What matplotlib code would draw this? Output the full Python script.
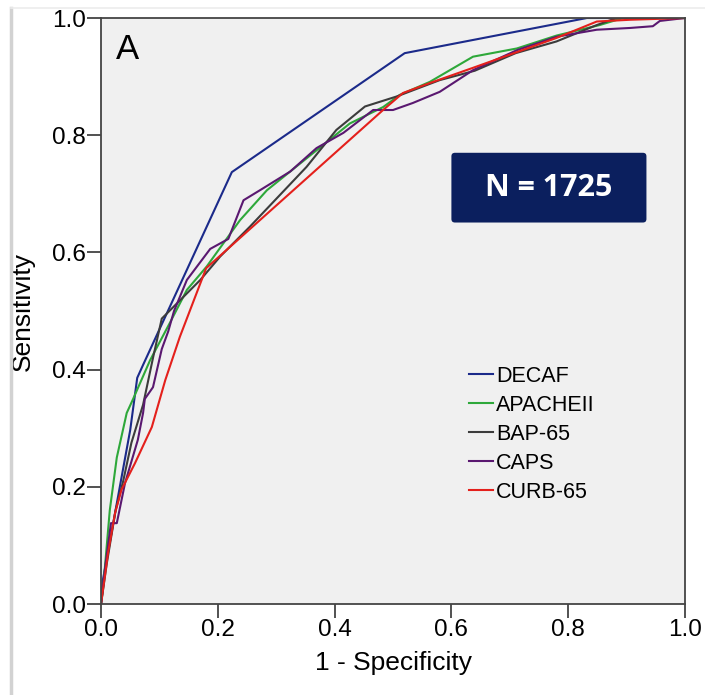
"""ROC curves for severity scores (panel A)."""

import matplotlib.pyplot as plt
from matplotlib.patches import FancyBboxPatch
from matplotlib.lines import Line2D

labels = ["DECAF", "APACHEII", "BAP-65", "CAPS", "CURB-65"]
colors = ["#1b2a8a", "#2ea83a", "#3c3c3c", "#5a1870", "#e4201c"]

decaf_x = [0, 0.003, 0.034, 0.05, 0.062, 0.072, 0.224, 0.52, 0.832, 1.0]
decaf_y = [0, 0.04, 0.21, 0.297, 0.386, 0.408, 0.737, 0.94, 1.0, 1.0]

apache_x = [0, 0.004, 0.015, 0.027, 0.044, 0.055, 0.084, 0.118, 0.147, 0.181,
            0.238, 0.284, 0.37, 0.426, 0.483, 0.512, 0.563, 0.637, 0.712,
            0.78, 0.854, 0.894, 1.0]
apache_y = [0, 0.032, 0.16, 0.25, 0.326, 0.35, 0.416, 0.48, 0.536, 0.576,
            0.655, 0.706, 0.775, 0.82, 0.848, 0.869, 0.891, 0.934, 0.948,
            0.97, 0.988, 1.0, 1.0]

bap_x = [0, 0.01, 0.025, 0.038, 0.052, 0.072, 0.089, 0.104, 0.13, 0.17, 0.204,
         0.255, 0.352, 0.403, 0.452, 0.506, 0.58, 0.64, 0.71, 0.78, 0.849,
         0.883, 1.0]
bap_y = [0, 0.07, 0.16, 0.21, 0.275, 0.34, 0.42, 0.487, 0.513, 0.553, 0.593,
         0.644, 0.746, 0.809, 0.849, 0.866, 0.894, 0.91, 0.94, 0.96, 0.988,
         1.0, 1.0]

caps_x = [0, 0.008, 0.017, 0.027, 0.041, 0.063, 0.072, 0.075, 0.089, 0.104,
          0.115, 0.125, 0.147, 0.187, 0.218, 0.244, 0.272, 0.324, 0.369,
          0.415, 0.466, 0.5, 0.534, 0.58, 0.637, 0.712, 0.78, 0.849, 0.906,
          0.945, 0.957, 1.0]
caps_y = [0, 0.07, 0.138, 0.138, 0.206, 0.28, 0.326, 0.35, 0.37, 0.435,
          0.465, 0.5, 0.553, 0.606, 0.623, 0.689, 0.706, 0.738, 0.778,
          0.804, 0.843, 0.843, 0.855, 0.874, 0.911, 0.945, 0.968, 0.98, 0.983,
          0.986, 0.995, 1.0]

curb_x = [0, 0.012, 0.024, 0.035, 0.058, 0.087, 0.11, 0.135, 0.18, 0.272,
          0.483, 0.517, 0.563, 0.637, 0.78, 0.849, 0.906, 1.0]
curb_y = [0, 0.087, 0.155, 0.195, 0.24, 0.302, 0.382, 0.456, 0.573, 0.655,
          0.843, 0.872, 0.889, 0.915, 0.966, 0.994, 0.997, 1.0]

series_x = [decaf_x, apache_x, bap_x, caps_x, curb_x]
series_y = [decaf_y, apache_y, bap_y, caps_y, curb_y]

ticks = [0.0, 0.2, 0.4, 0.6, 0.8, 1.0]
tick_labels = ["0.0", "0.2", "0.4", "0.6", "0.8", "1.0"]

plt.rcParams["font.family"] = ["Liberation Sans", "DejaVu Sans"]

fig = plt.figure(figsize=(7.05, 6.95), dpi=100)
ax = fig.add_axes([0.1433, 0.1309, 0.8283, 0.8432])
ax.set_facecolor("#f0f0f0")

for xs, ys, c, lab in zip(series_x, series_y, colors, labels):
    ax.plot(xs, ys, color=c, lw=1.5, label=lab)

ax.set_xlim(0, 1)
ax.set_ylim(0, 1)
ax.set_xticks(ticks)
ax.set_xticklabels(tick_labels)
ax.set_yticks(ticks)
ax.set_yticklabels(tick_labels)
ax.tick_params(direction="out", length=10, width=1.2, color="#333333",
               labelsize=17.5, pad=1)
for s in ax.spines.values():
    s.set_color("#444444")
    s.set_linewidth(1.3)

ax.set_xlabel("1 - Specificity", fontsize=19, labelpad=7)
ax.set_ylabel("Sensitivity", fontsize=19, labelpad=12)

ax.text(0.025, 0.975, "A", transform=ax.transAxes, fontsize=25,
        va="top", ha="left")

# N box
box = FancyBboxPatch((0.60, 0.651), 0.334, 0.119,
                     boxstyle="round,pad=0,rounding_size=0.006",
                     fc="#0b1f5e", ec="none", transform=ax.transAxes)
ax.add_patch(box)
ax.text(0.767, 0.71, "N = 1725", transform=ax.transAxes, color="white",
        fontsize=22, fontweight="bold", family="Open Sans",
        ha="center", va="center")

ax.legend(loc="upper left", bbox_to_anchor=(0.612, 0.425), frameon=False,
          fontsize=15.5, handlelength=1.1, handletextpad=0.15,
          labelspacing=0.37, borderpad=0)

# faint border from the original screenshot
fig.add_artist(Line2D([0.0156, 0.0156], [0, 0.988], color="#d2d2d2", lw=2.5))
fig.add_artist(Line2D([0.0156, 1.0], [0.988, 0.988], color="#ececec", lw=1.2))

fig.savefig("out.png", dpi=100)
